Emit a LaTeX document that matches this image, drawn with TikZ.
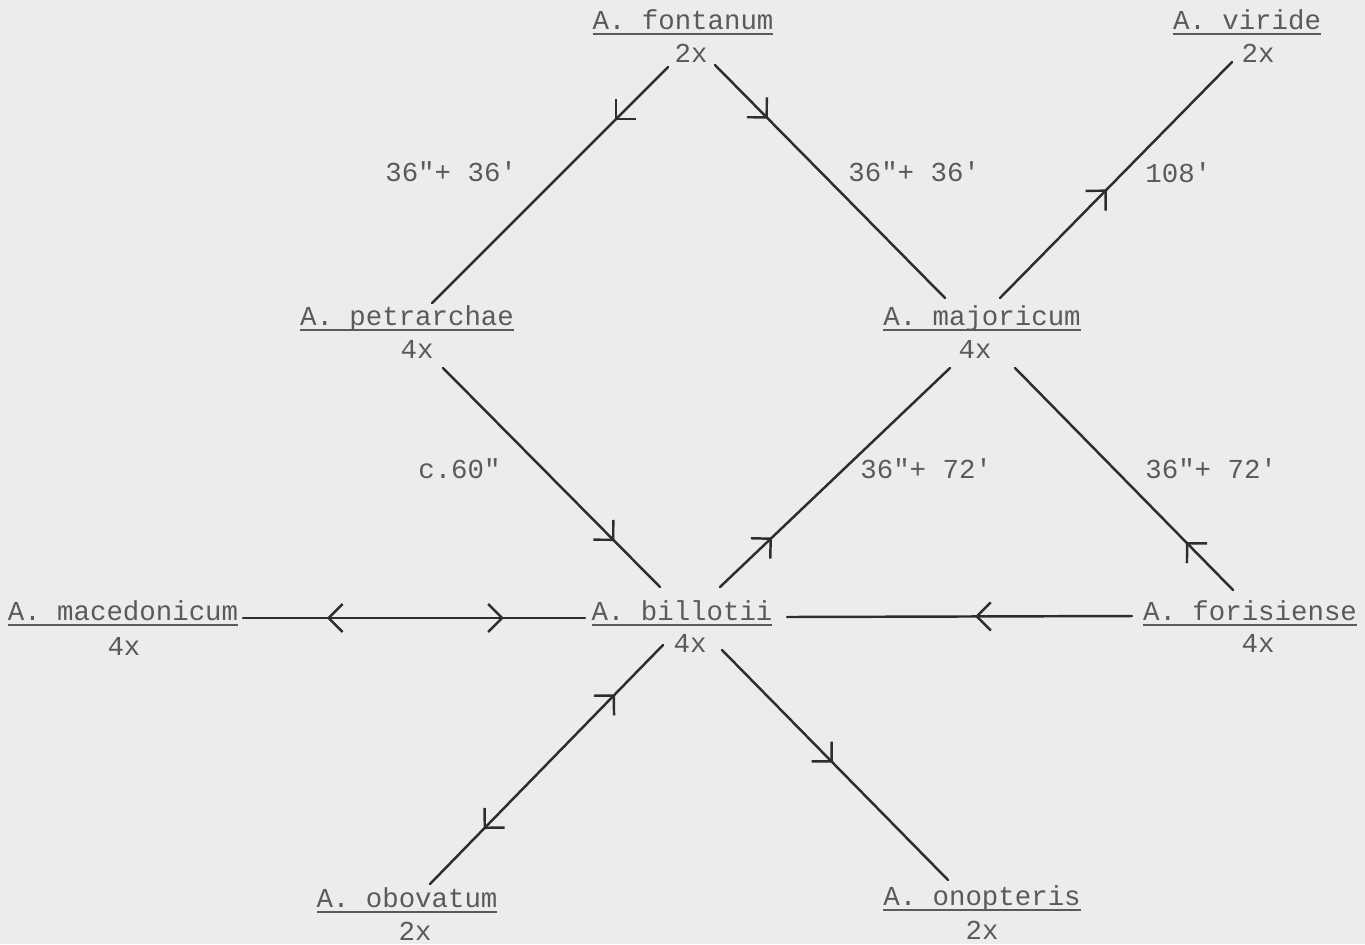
\documentclass[tikz,border=0pt]{standalone}
\usepackage{fontspec}
\setmonofont{Liberation Mono}
\usetikzlibrary{arrows.meta, decorations.markings}
\definecolor{paper}{RGB}{236,236,236}
\definecolor{ink}{RGB}{90,90,90}
\definecolor{pen}{RGB}{45,45,45}
% underlined species name, rule a little below the baseline
\newcommand{\uname}[1]{\setbox0=\hbox{#1}\rlap{\rule[-3.5pt]{\wd0}{1.2pt}}\box0}
\tikzset{
      font=\ttfamily\fontsize{15.6}{18.7}\selectfont,
      taxon/.style   = {anchor=base, inner sep=1pt, text=ink},
      ploidy/.style  = {anchor=base, inner sep=1pt, text=ink},
      count/.style   = {anchor=base west, inner sep=0pt, text=ink},
      cross/.style   = {pen, line width=1.4pt, line cap=round,
                        >={Straight Barb[length=8pt, width=16pt]}},
      headat/.style  = {postaction={decorate, decoration={markings,
                        mark=at position #1 with {\arrow{>}}}}},
      tailat/.style  = {postaction={decorate, decoration={markings,
                        mark=at position #1 with {\arrowreversed{>}}}}}
    }

\begin{document}
\begin{tikzpicture}[x=0.02cm, y=-0.02cm]
  \fill[paper] (0,0) rectangle (1365,944);
  \useasboundingbox (0,0) rectangle (1365,944);
  % Diploids
  \node[taxon] (fontanum) at (683,29) {\uname{A. fontanum}};
  \node[taxon] (viride) at (1247,29) {\uname{A. viride}};
  \node[taxon] (obovatum) at (407,907) {\uname{A. obovatum}};
  \node[taxon] (onopteris) at (982,905) {\uname{A. onopteris}};
  \node[ploidy] (fontanum2x) at ([shift={(8,33)}]fontanum.base) {2x};
  \node[ploidy] (viride2x) at ([shift={(11,33)}]viride.base) {2x};
  \node[ploidy] (obovatum2x) at ([shift={(8,33)}]obovatum.base) {2x};
  \node[ploidy] (onopteris2x) at ([shift={(0,34)}]onopteris.base) {2x};
  % Tetraploids
  \node[taxon] (petrarchae) at (407,325) {\uname{A. petrarchae}};
  \node[taxon] (majoricum) at (982,325) {\uname{A. majoricum}};
  \node[taxon] (macedonicum) at (123,620) {\uname{A. macedonicum}};
  \node[taxon] (billotii) at (682,620) {\uname{A. billotii}};
  \node[taxon] (forisiense) at (1250,620) {\uname{A. forisiense}};
  \node[ploidy] (petrarchae4x) at ([shift={(10,33)}]petrarchae.base) {4x};
  \node[ploidy] (majoricum4x) at ([shift={(-7,33)}]majoricum.base) {4x};
  \node[ploidy] (macedonicum4x) at ([shift={(1,35)}]macedonicum.base) {4x};
  \node[ploidy] (billotii4x) at ([shift={(8,32)}]billotii.base) {4x};
  \node[ploidy] (forisiense4x) at ([shift={(8,32)}]forisiense.base) {4x};
  % Crosses
  \draw[cross, headat=0.225] ([shift={(-15,38)}]fontanum.base) -- ([shift={(25,-22)}]petrarchae.base);
  \draw[cross, headat=0.23] ([shift={(32,36)}]fontanum.base) -- ([shift={(-37,-27)}]majoricum.base);
  \draw[cross, headat=0.46] ([shift={(18,-27)}]majoricum.base) -- ([shift={(-15,33)}]viride.base);
  \draw[cross, headat=0.79] ([shift={(36,43)}]petrarchae.base) -- ([shift={(-22,-33)}]billotii.base);
  \draw[cross, headat=0.226] ([shift={(38,-33)}]billotii.base) -- ([shift={(-32,43)}]majoricum.base);
  \draw[cross, headat=0.216] ([shift={(-17,-30)}]forisiense.base) -- ([shift={(33,43)}]majoricum.base);
  \draw[cross, tailat=0.245, headat=0.763] ([shift={(120,-2)}]macedonicum.base) -- ([shift={(-97,-2)}]billotii.base);
  \draw[cross, headat=0.455] ([shift={(-118,-4)}]forisiense.base) -- ([shift={(105,-3)}]billotii.base);
  \draw[cross, tailat=0.206, headat=0.77] ([shift={(-19,25)}]billotii.base) -- ([shift={(23,-23)}]obovatum.base);
  \draw[cross, headat=0.49] ([shift={(40,30)}]billotii.base) -- ([shift={(-34,-25)}]onopteris.base);
  % Chromosome counts
  \node[count] (fp) at (385,181) {36"+ 36'};
  \node[count] (fm) at (848,181) {36"+ 36'};
  \node[count] (mv) at (1145,182) {108'};
  \node[count] (pb) at (418,478) {c.60"};
  \node[count] (bm) at (860,478) {36"+ 72'};
  \node[count] (fo) at (1145,478) {36"+ 72'};
\end{tikzpicture}
\end{document}
